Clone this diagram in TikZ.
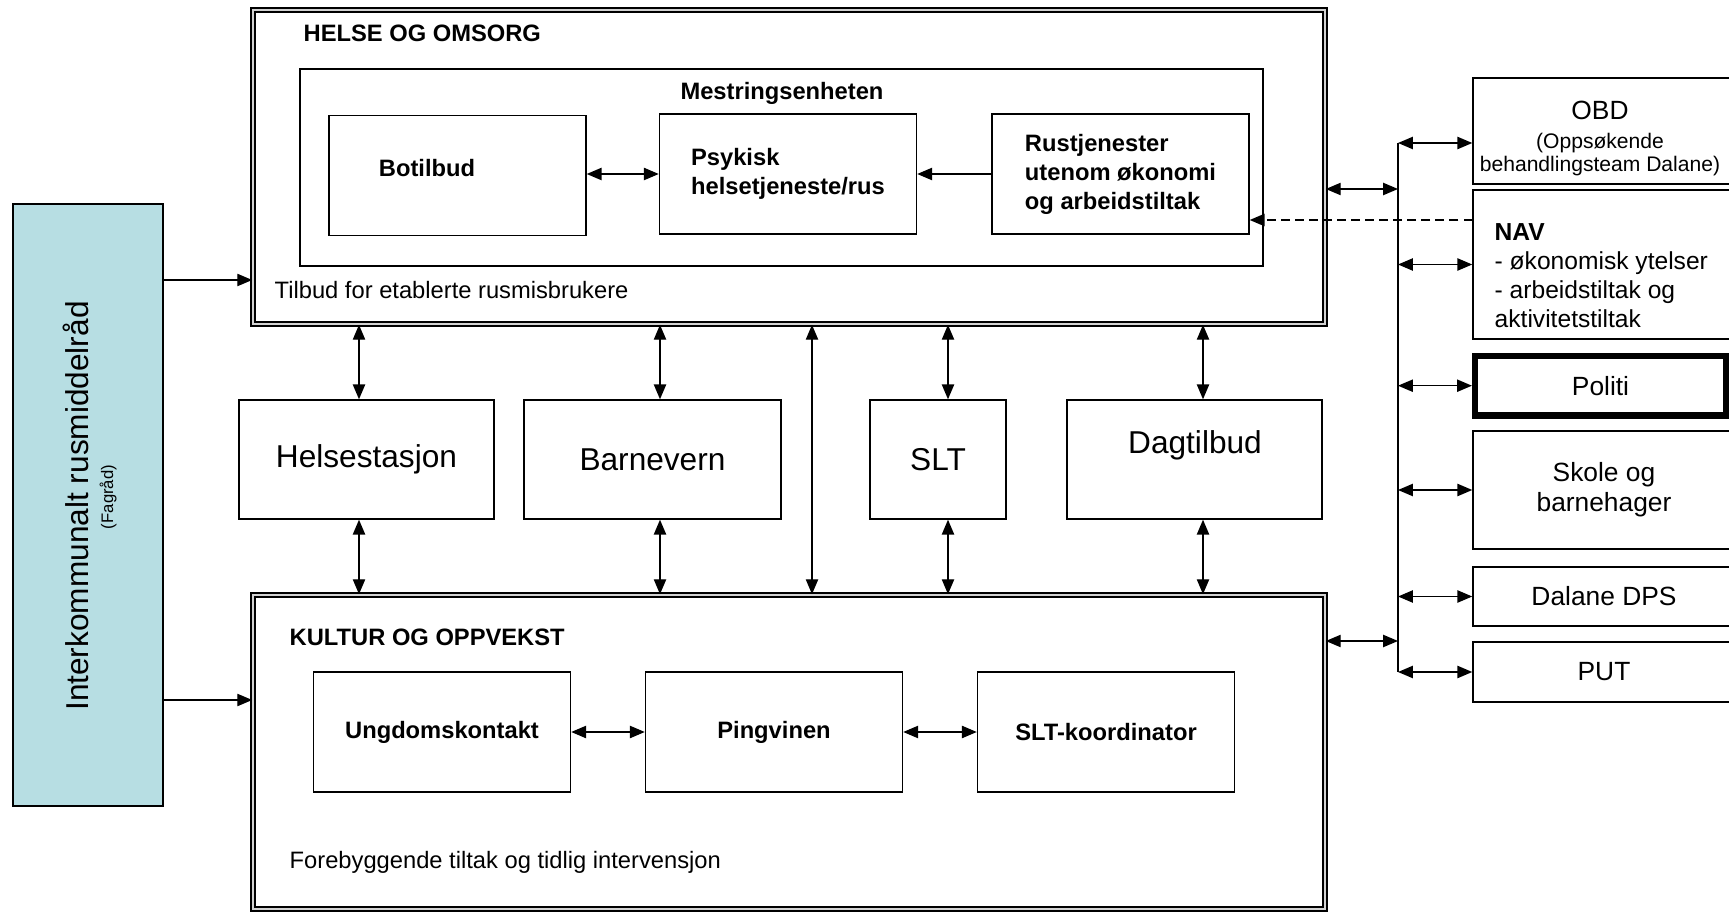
\documentclass[tikz,border=0pt]{standalone}
\usepackage{fontspec}
\setmainfont{Liberation Sans}
\usetikzlibrary{arrows.meta}
\newdimen\pxu
\pxu=0.02cm
\definecolor{raadblue}{RGB}{183,222,227}
\tikzset{
  box/.style={draw,line width=0.8pt,inner sep=0pt,align=center},
  unitbox/.style={draw,line width=0.9pt,double=gray!35,double distance=1.6pt,inner sep=0pt},
  subbox/.style={box,minimum width=257\pxu,minimum height=120\pxu,font=\fontsize{13.5}{16.5}\selectfont\bfseries},
  midbox/.style={box,minimum height=119\pxu,font=\fontsize{18}{21}\selectfont},
  extbox/.style={box,minimum width=262\pxu,font=\fontsize{15}{17}\selectfont},
  lbl/.style={inner sep=0pt,font=\fontsize{13.5}{16.5}\selectfont},
  headlbl/.style={inner sep=0pt,font=\fontsize{13.5}{16.5}\selectfont\bfseries}
}
\begin{document}
\begin{tikzpicture}[x=0.02cm,y=-0.02cm,>={Triangle[length=8.5pt,width=7pt]},line width=0.8pt]
  \useasboundingbox (0,0) rectangle (1729,912);

  \node[unitbox,minimum width=1072\pxu,minimum height=314\pxu] (helse) at (789,167) {};
  \node[headlbl,anchor=west] (helsett) at (303,33) {HELSE OG OMSORG};
  \node[box,minimum width=963\pxu,minimum height=197\pxu] (mestr) at (781.5,167.5) {};
  \node[headlbl] (mestrtt) at (782,93) {Mestringsenheten};
  \node[subbox] (bot) at (457.5,175.5) {};
  \node[headlbl] (bottt) at (427,168) {Botilbud};
  \node[subbox,align=left] (psyk) at (788,174) {Psykisk\\helsetjeneste/rus};
  \node[subbox,align=left] (rus) at (1120.5,174) {Rustjenester\\utenom økonomi\\og arbeidstiltak};
  \node[lbl,anchor=west] (helsesub) at (274,290) {Tilbud for etablerte rusmisbrukere};
  \draw[<->] (bot.east |- psyk) -- (psyk.west);
  \draw[<-] (psyk) -- (rus);

  \node[midbox,minimum width=255\pxu] (hs) at (366.5,459.5) {Helsestasjon};
  \node[midbox,minimum width=257\pxu] (bv) at (652.5,459.5) {Barnevern};
  \node[midbox,minimum width=136\pxu] (slt) at (938,459.5) {SLT};
  \node[midbox,minimum width=255\pxu] (dag) at (1194.5,459.5) {};
  \node[inner sep=0pt,font=\fontsize{18}{21}\selectfont] (dagtt) at (1195,445) {Dagtilbud};

  \node[unitbox,minimum width=1072\pxu,minimum height=314\pxu] (kultur) at (789,752) {};
  \node[headlbl,anchor=west] (kulturtt) at (289,637) {KULTUR OG OPPVEKST};
  \node[subbox] (ung) at (442,732) {Ungdomskontakt};
  \node[subbox] (ping) at (774,732) {Pingvinen};
  \node[subbox] (sltk) at (1106,732) {SLT-koordinator};
  \node[lbl,anchor=west] (kultursub) at (289,862) {Forebyggende tiltak og tidlig intervensjon};
  \draw[<->] (ung) -- (ping);
  \draw[<->] (ping) -- (sltk);

  \foreach \x/\n in {359/hs,660/bv,948/slt,1203/dag} {
    \draw[<->] (helse.south -| \x,0) -- (\n.north -| \x,0);
    \draw[<->] (\n.south -| \x,0) -- (kultur.north -| \x,0);
  }
  \draw[<->] (helse.south -| 812,0) -- (kultur.north -| 812,0);

  \node[box,fill=raadblue,minimum width=150\pxu,minimum height=602\pxu] (raad) at (88,505) {};
  \node[rotate=90,anchor=base,inner sep=0pt,font=\fontsize{18}{21}\selectfont] (raadtt) at (88,506) {Interkommunalt rusmiddelråd};
  \node[rotate=90,anchor=base,inner sep=0pt,font=\fontsize{9.5}{11}\selectfont] (raadsub) at (113,497) {(Fagråd)};
  \draw[->] (raad.east |- 0,280) -- (helse.west |- 0,280);
  \draw[->] (raad.east |- 0,700) -- (kultur.west |- 0,700);

  \coordinate (bustop) at (1398,143);
  \coordinate (busbot) at (1398,672);
  \node[extbox,minimum height=106\pxu] (obd) at (1604,131) {};
  \node[inner sep=0pt,align=center,anchor=north,font=\fontsize{15}{17}\selectfont] (obdtt) at (1600,100) {OBD\\{\fontsize{12}{13}\selectfont (Oppsøkende}\\[-4pt]{\fontsize{12}{13}\selectfont behandlingsteam Dalane)}};
  \node[extbox,minimum height=149\pxu] (nav) at (1604,264.5) {};
  \node[inner sep=0pt,align=left,anchor=north west,font=\fontsize{14}{16.5}\selectfont] (navtt) at (1494,223) {\textbf{NAV}\\- økonomisk ytelser\\- arbeidstiltak og\\aktivitetstiltak};
  \node[extbox,line width=3.5pt,minimum width=251\pxu,minimum height=59.5\pxu] (politi) at (1600.5,385.7) {Politi};
  \node[extbox,minimum height=118\pxu] (skole) at (1604,490) {Skole og\\barnehager};
  \node[extbox,minimum height=59\pxu] (dps) at (1604,596.5) {Dalane DPS};
  \node[extbox,minimum height=60\pxu] (put) at (1604,672) {PUT};
  \draw (bustop) -- (busbot);
  \draw[<->] (bustop) -- (obd.west |- bustop);
  \foreach \n in {nav,politi,skole,dps,put}
    \draw[<->] (\n.west -| bustop) -- (\n.west);
  \draw[<->] (helse.east |- 0,189) -- (bustop |- 0,189);
  \draw[<->] (kultur.east |- 0,641) -- (bustop |- 0,641);
  \draw[dash pattern=on 5pt off 3pt,->] (nav.west |- 0,220) -- (rus.east |- 0,220);
\end{tikzpicture}
\end{document}
